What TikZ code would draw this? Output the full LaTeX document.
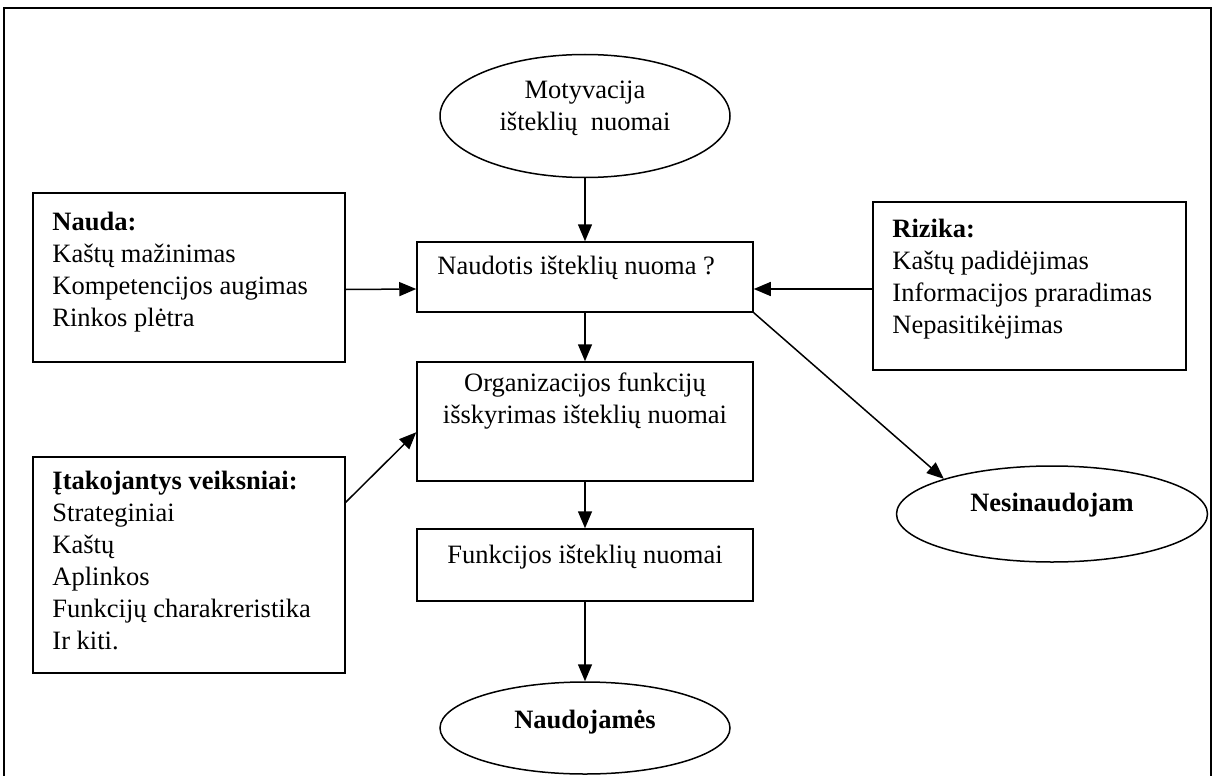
\documentclass[tikz,border=0pt]{standalone}
\usepackage{fontspec}
\setmainfont{Liberation Serif}
\usetikzlibrary{shapes.geometric,arrows.meta,fit}
\tikzset{
	box/.style={draw,line width=1.5pt,inner sep=0pt},
	oval/.style={draw,ellipse,line width=1.5pt,inner sep=0pt},
	txt/.style={anchor=north west,align=left,inner sep=0pt},
	link/.style={line width=1.5pt,-{Triangle[length=17pt,width=14pt]}}
}
\begin{document}
\begin{tikzpicture}[x=1pt,y=-1pt]
\fontsize{26.5}{32}\selectfont
\useasboundingbox (0,0) rectangle (1215,776);
\draw[line width=2pt] (4,790) -- (4,8) -- (1211,8) -- (1211,790);
% middle column
\node[oval,minimum width=290pt,minimum height=123pt] (motyv) at (585,116) {};
\node[align=center,inner sep=0pt] at ([yshift=8pt]motyv.center) {Motyvacija\\išteklių\ \ nuomai};
\node[box,fit={(417,242) (753,312)}] (naud) {};
\node[anchor=base west,inner sep=0pt] at ([xshift=21pt,yshift=-33pt]naud.north west) {Naudotis išteklių nuoma ?};
\node[box,fit={(417,362) (753,481)}] (org) {};
\node[anchor=north,align=center,inner sep=0pt] at ([yshift=-11pt]org.north) {Organizacijos funkcijų\\išskyrimas išteklių nuomai};
\node[box,fit={(417,529) (753,601)}] (funk) {};
\node[anchor=north,inner sep=0pt] at ([yshift=-17pt]funk.north) {Funkcijos išteklių nuomai};
\node[oval,minimum width=290pt,minimum height=92pt] (naudoj) at (585,728) {};
\node[font=\bfseries,inner sep=0pt] at ([yshift=6pt]naudoj.center) {Naudojamės};
% side boxes
\node[box,fit={(33,193) (345,362)}] (nauda) {};
\node[txt] at ([xshift=20pt,yshift=-20pt]nauda.north west) {\textbf{Nauda:}\\Kaštų mažinimas\\Kompetencijos augimas\\Rinkos plėtra};
\node[box,fit={(873,202) (1186,370)}] (rizika) {};
\node[txt] at ([xshift=20pt,yshift=-18pt]rizika.north west) {\textbf{Rizika:}\\Kaštų padidėjimas\\Informacijos praradimas\\Nepasitikėjimas};
\node[box,fit={(33,457) (345,673)}] (itak) {};
\node[txt] at ([xshift=20pt,yshift=-15pt]itak.north west) {\textbf{Įtakojantys veiksniai:}\\Strateginiai\\Kaštų\\Aplinkos\\Funkcijų charakreristika\\Ir kiti.};
\node[oval,minimum width=311pt,minimum height=96pt] (nesin) at (1052,514) {};
\node[font=\bfseries,inner sep=0pt] at ([yshift=9pt]nesin.center) {Nesinaudojam};
% arrows
\draw[link] (motyv.south) -- (naud.north);
\draw[link] (naud.south) -- (org.north);
\draw[link] (org.south) -- (funk.north);
\draw[link] (funk.south) -- (naudoj.north);
\draw[link] ([yshift=-12pt]nauda.east) -- ([yshift=-12pt]naud.west);
\draw[link] ([yshift=-3pt]rizika.west) -- ([yshift=-12pt]naud.east);
\draw[link] ([yshift=-46pt]itak.north east) -- ([yshift=-71pt]org.north west);
\draw[link] (naud.south east) -- (nesin.162);
\end{tikzpicture}
\end{document}
